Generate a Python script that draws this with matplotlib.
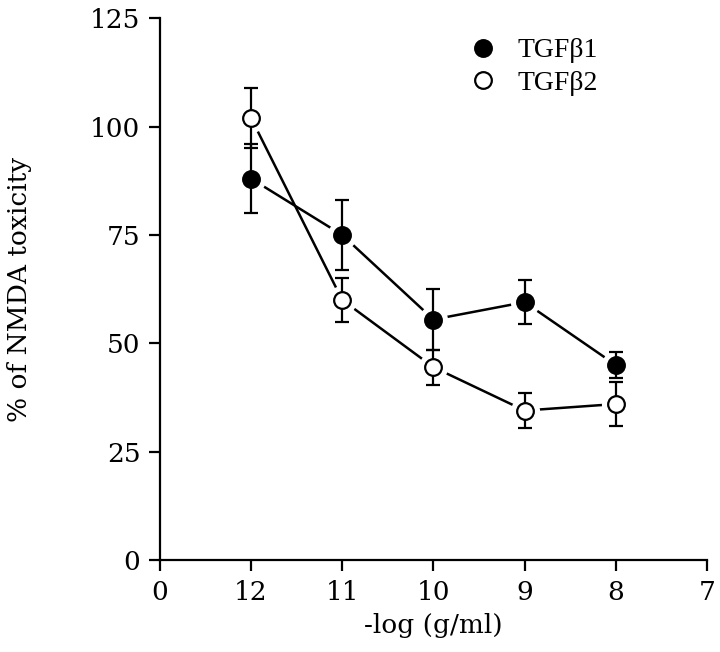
import matplotlib
matplotlib.use("Agg")
import matplotlib.pyplot as plt
from matplotlib.lines import Line2D

# Data
tick_labels = ["0", "12", "11", "10", "9", "8", "7"]
conc_labels = ["12", "11", "10", "9", "8"]
tgfb1 = [88, 75, 55.5, 59.5, 45]
tgfb1_err = [8, 8, 7, 5, 3]
tgfb2 = [102, 60, 44.5, 34.5, 36]
tgfb2_err = [7, 5, 4, 4, 5]
yticks = [0, 25, 50, 75, 100, 125]

serif = ["DejaVu Serif"]
fig = plt.figure(figsize=(7.2, 6.52), dpi=100)
ax = fig.add_axes([0.222, 0.141, 0.76, 0.831])

xpos = [tick_labels.index(c) for c in conc_labels]

for vals, errs, face in [(tgfb1, tgfb1_err, "black"), (tgfb2, tgfb2_err, "white")]:
    ax.plot(xpos, vals, color="black", lw=1.8, zorder=1, clip_on=False)
    ax.plot(xpos, vals, "o", ms=20, color="white", mec="white", zorder=2, clip_on=False)
    ax.errorbar(xpos, vals, yerr=errs, fmt="none", ecolor="black", elinewidth=1.6,
                capsize=5, capthick=1.6, zorder=3, clip_on=False)
    ax.plot(xpos, vals, "o", ms=12, mfc=face, mec="black", mew=1.6, zorder=4, clip_on=False)

ax.set_xlim(0, 6)
ax.set_ylim(0, 125)
ax.set_xticks(range(len(tick_labels)))
ax.set_xticklabels(tick_labels)
ax.set_yticks(yticks)
ax.set_yticklabels([str(v) for v in yticks])
for s in ["top", "right"]:
    ax.spines[s].set_visible(False)
for s in ["left", "bottom"]:
    ax.spines[s].set_linewidth(1.6)
ax.tick_params(direction="out", length=8, width=1.6, labelsize=19, pad=6)
for lab in ax.get_xticklabels() + ax.get_yticklabels():
    lab.set_family(serif)

ax.set_xlabel("-log (g/ml)", fontsize=19, family=serif, labelpad=6)
ax.set_ylabel("% of NMDA toxicity", fontsize=19, family=serif, labelpad=42)

handles = [
    Line2D([], [], ls="none", marker="o", ms=12, mfc="black", mec="black", mew=1.6),
    Line2D([], [], ls="none", marker="o", ms=12, mfc="white", mec="black", mew=1.6),
]
ax.legend(handles, ["TGFβ1", "TGFβ2"], loc="upper left", bbox_to_anchor=(0.52, 1.01),
          frameon=False, prop={"family": "Liberation Serif", "size": 20},
          handletextpad=0.75, labelspacing=0.25, handlelength=1.0)

fig.savefig("out.png", dpi=100)
